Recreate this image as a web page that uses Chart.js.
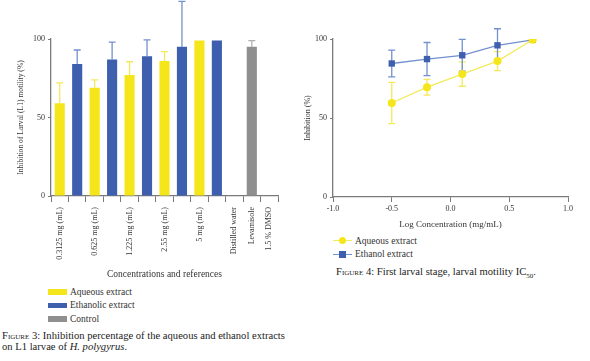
<!DOCTYPE html>
<html>
<head>
<meta charset="utf-8">
<script src="https://cdn.jsdelivr.net/npm/chart.js@4.4.1/dist/chart.umd.min.js"></script>
<style>
  html, body { margin: 0; padding: 0; background: #fff; }
  body { width: 590px; height: 361px; position: relative; overflow: hidden; font-family: "Liberation Serif", "DejaVu Serif", serif; color: #333; }
  .box { position: absolute; }
  .legend { position: absolute; font-family: "Liberation Serif", serif; font-size: 9.5px; color: #333; }
  .legend div { height: 13.5px; display: flex; align-items: center; }
  .sw { display: inline-block; width: 19px; height: 5.5px; margin-right: 3px; }
  .caption { position: absolute; font-family: "Liberation Serif", serif; font-size: 10.6px; line-height: 11px; color: #222; white-space: nowrap; }
  .caption .fig { font-variant: small-caps; }
  .mk { position: relative; display: inline-block; width: 19px; height: 8px; margin-right: 3px; }
  .mk .ln { position: absolute; left: 0; right: 0; top: 3.5px; height: 1px; }
  .mk .pt { position: absolute; left: 6px; top: 0.5px; width: 7px; height: 7px; }
</style>
</head>
<body>
<div class="box" style="left:0;top:0;width:300px;height:280px"><canvas id="bars"></canvas></div>
<div class="box" style="left:300px;top:0;width:290px;height:230px"><canvas id="curve"></canvas></div>

<div class="legend" id="barLegend" style="left:48px;top:285px"></div>
<div class="caption" style="left:2px;top:330px">
  <span class="fig">Figure 3</span>: Inhibition percentage of the aqueous and ethanol extracts<br>on L1 larvae of <i>H. polygyrus</i>.
</div>

<div class="legend" id="curveLegend" style="left:333px;top:234px"></div>
<div class="caption" style="left:336px;top:266px">
  <span class="fig">Figure 4</span>: First larval stage, larval motility IC<sub style="font-size:7px">50</sub>.
</div>

<script>
// Figure 3: one slot per category, null where a group has no bar
const categories = ["0.3125 mg (mL)", "", "0.625 mg (mL)", "", "1.225 mg (mL)", "", "2.55 mg (mL)", "", "5 mg (mL)", "", "Distilled water", "Levamisole", "1.5 % DMSO"];
const aqueous = [59, null, 69, null, 77, null, 86, null, 99, null, null, null, null];
const aqueousErr = [13, null, 5, null, 8.5, null, 6, null, 0, null, null, null, null];
const ethanolic = [null, 84, null, 87, null, 89, null, 95, null, 99, null, null, null];
const ethanolicErr = [null, 9, null, 11, null, 10.5, null, 29, null, 0, null, null, null];
const control = [null, null, null, null, null, null, null, null, null, null, 0, 95, 0];
const controlErr = [null, null, null, null, null, null, null, null, null, null, 0, 4, 0];

// Figure 4: log concentration vs inhibition
const logConc = [-0.5, -0.2, 0.1, 0.4, 0.7];
const aqueousCurve = [59.5, 69.5, 77.8, 86, 99.5];
const aqueousCurveErr = [13, 5, 7.7, 6, 0];
const ethanolCurve = [84.5, 87.3, 89.7, 96, 99.5];
const ethanolCurveErr = [8.5, 10.5, 10, 10.5, 0];

const yellow = "#f5e61c";
const yellowLight = "#f2ea5c";
const blue = "#3d5fae";
const blueLight = "#7390cf";
const grey = "#8f8f8f";
const axisColor = "#7a7a7a";
const serif = "'Liberation Serif', 'DejaVu Serif', serif";

Chart.defaults.font.family = serif;
Chart.defaults.color = "#333";

const errorBars = {
  id: "errorBars",
  beforeDatasetsDraw(chart, args, opts) {
    const ctx = chart.ctx;
    const yScale = chart.scales.y;
    chart.data.datasets.forEach((ds, i) => {
      if (!ds.errors) return;
      const meta = chart.getDatasetMeta(i);
      ctx.save();
      ctx.strokeStyle = ds.errorColor;
      ctx.lineWidth = 1.3;
      meta.data.forEach((el, j) => {
        const raw = ds.data[j];
        const err = ds.errors[j];
        if (raw == null || !err) return;
        const v = typeof raw === "object" ? raw.y : raw;
        const x = el.x;
        const top = yScale.getPixelForValue(v + err);
        const bottom = opts.both ? yScale.getPixelForValue(v - err) : el.y;
        ctx.beginPath();
        ctx.moveTo(x, top);
        ctx.lineTo(x, bottom);
        ctx.moveTo(x - 3.5, top);
        ctx.lineTo(x + 3.5, top);
        if (opts.both) {
          ctx.moveTo(x - 3.5, bottom);
          ctx.lineTo(x + 3.5, bottom);
        }
        ctx.stroke();
      });
      ctx.restore();
    });
  },
};

new Chart(document.getElementById("bars"), {
  type: "bar",
  data: {
    labels: categories,
    datasets: [
      { label: "Aqueous extract", data: aqueous, errors: aqueousErr, backgroundColor: yellow, errorColor: yellowLight },
      { label: "Ethanolic extract", data: ethanolic, errors: ethanolicErr, backgroundColor: blue, errorColor: blueLight },
      { label: "Control", data: control, errors: controlErr, backgroundColor: grey, errorColor: "#b0b0b0" },
    ],
  },
  plugins: [errorBars],
  options: {
    animation: false,
    responsive: true,
    maintainAspectRatio: false,
    grouped: false,
    barPercentage: 0.58,
    categoryPercentage: 1,
    layout: { padding: { top: 39, right: 22, left: 16, bottom: 0 } },
    plugins: {
      legend: { display: false },
      tooltip: { enabled: false },
      errorBars: { both: false },
    },
    scales: {
      x: {
        offset: true,
        grid: { display: true, drawOnChartArea: false, drawTicks: true, tickLength: 6, color: axisColor, lineWidth: 1 },
        border: { display: true, color: axisColor, width: 1.3 },
        ticks: { autoSkip: false, minRotation: 90, maxRotation: 90, font: { size: 8 }, color: "#333", padding: 5 },
        title: { display: true, text: "Concentrations and references", font: { size: 9.5 }, color: "#333", padding: { top: 0, bottom: 0 } },
        afterFit(scale) { scale.height = 84; },
      },
      y: {
        min: 0,
        max: 100,
        ticks: { stepSize: 50, font: { size: 8 }, color: "#333", padding: 3 },
        grid: { display: true, drawOnChartArea: false, drawTicks: true, tickLength: 3, color: axisColor },
        border: { display: true, color: axisColor, width: 1.3 },
        title: { display: true, text: "Inhibition of Larval (L1) motility (%)", font: { size: 7.6 }, color: "#333", padding: 0 },
        afterFit(scale) { scale.width = 35; },
      },
    },
  },
});

new Chart(document.getElementById("curve"), {
  type: "line",
  data: {
    datasets: [
      {
        label: "Aqueous extract",
        data: logConc.map((x, i) => ({ x, y: aqueousCurve[i] })),
        errors: aqueousCurveErr,
        errorColor: yellowLight,
        borderColor: yellowLight,
        backgroundColor: yellow,
        borderWidth: 1.3,
        pointStyle: "circle",
        pointRadius: 4,
        pointBorderWidth: 0,
        tension: 0,
      },
      {
        label: "Ethanol extract",
        data: logConc.map((x, i) => ({ x, y: ethanolCurve[i] })),
        errors: ethanolCurveErr,
        errorColor: blueLight,
        borderColor: blueLight,
        backgroundColor: blue,
        borderWidth: 1.3,
        pointStyle: "rect",
        pointRadius: 4.5,
        pointBorderWidth: 0,
        tension: 0,
      },
    ],
  },
  plugins: [errorBars],
  options: {
    animation: false,
    responsive: true,
    maintainAspectRatio: false,
    layout: { padding: { top: 39, right: 22, left: 3, bottom: 0 } },
    plugins: {
      legend: { display: false },
      tooltip: { enabled: false },
      errorBars: { both: true },
    },
    scales: {
      x: {
        type: "linear",
        min: -1,
        max: 1,
        ticks: { stepSize: 0.5, font: { size: 8 }, color: "#333", padding: 2, callback: (v) => v.toFixed(1) },
        grid: { display: true, drawOnChartArea: false, drawTicks: true, tickLength: 5, color: axisColor },
        border: { display: true, color: axisColor, width: 1.3 },
        title: { display: true, text: "Log Concentration (mg/mL)", font: { size: 9 }, color: "#333", padding: 0 },
        afterFit(scale) { scale.height = 33; },
      },
      y: {
        min: 0,
        max: 100,
        ticks: { stepSize: 50, font: { size: 8 }, color: "#333", padding: 3 },
        grid: { display: true, drawOnChartArea: false, drawTicks: true, tickLength: 3, color: axisColor },
        border: { display: true, color: axisColor, width: 1.3 },
        title: { display: true, text: "Inhibition (%)", font: { size: 8 }, color: "#333", padding: 0 },
        afterFit(scale) { scale.width = 30; },
      },
    },
  },
});

// HTML legends built from the dataset names and colours
const barLegend = document.getElementById("barLegend");
[["Aqueous extract", yellow], ["Ethanolic extract", blue], ["Control", grey]].forEach(([name, col]) => {
  const row = document.createElement("div");
  row.innerHTML = `<span class="sw" style="background:${col}"></span>${name}`;
  barLegend.appendChild(row);
});
const curveLegend = document.getElementById("curveLegend");
[["Aqueous extract", yellowLight, yellow, "50%"], ["Ethanol extract", blueLight, blue, "0"]].forEach(([name, line, pt, radius]) => {
  const row = document.createElement("div");
  row.innerHTML = `<span class="mk"><span class="ln" style="background:${line}"></span><span class="pt" style="background:${pt};border-radius:${radius}"></span></span>${name}`;
  curveLegend.appendChild(row);
});
</script>
</body>
</html>
